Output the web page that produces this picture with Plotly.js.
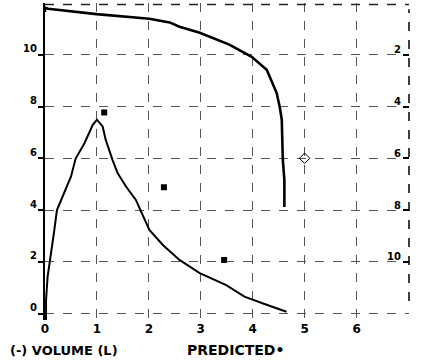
<!DOCTYPE html>
<html>
<head>
<meta charset="utf-8">
<script src="https://cdn.plot.ly/plotly-3.0.1.min.js"></script>
<style>html,body{margin:0;padding:0;background:#fff;}#chart{width:431px;height:360px;}</style>
</head>
<body>
<div id="chart"></div>
<script>
// Flow-volume loop (expiratory limb): volume (L) vs flow (L/s)
const fvVolume = [0.02, 0.02, 0.05, 0.10, 0.18, 0.23, 0.34, 0.50, 0.59, 0.76, 0.92, 1.00, 1.11, 1.17, 1.30, 1.40, 1.56, 1.75, 2.01, 2.27, 2.59, 2.98, 3.49, 3.84, 4.20, 4.65];
const fvFlow   = [-0.32, 0.52, 1.42, 2.20, 3.23, 4.00, 4.52, 5.29, 5.99, 6.58, 7.29, 7.49, 7.23, 6.71, 5.94, 5.42, 4.91, 4.39, 3.23, 2.65, 2.07, 1.56, 1.10, 0.65, 0.39, 0.07];

// Volume-time curve: volume (L) vs time (s, right axis, downward)
const vtVolume = [0, 0, 0.06, 0.99, 2.01, 2.40, 2.59, 2.98, 3.55, 3.98, 4.27, 4.46, 4.52, 4.56, 4.58, 4.61, 4.61];
const vtTime   = [0.35, 0.18, 0.22, 0.43, 0.61, 0.75, 0.92, 1.15, 1.61, 2.08, 2.58, 3.47, 4.01, 4.51, 6.06, 6.84, 7.88];

// Predicted values
const predVolume = [1.14, 2.29, 3.45];
const predFlow   = [7.77, 4.88, 2.07];
const predFvcVolume = [5.0];
const predFvcTime   = [6.0];

// Tick labels
const xTicks = [0, 1, 2, 3, 4, 5, 6];
const flowTicks = [0, 2, 4, 6, 8, 10];
const timeTicks = [2, 4, 6, 8, 10];

const tickFont = {family: 'DejaVu Sans', size: 10, color: '#000', weight: 'bold'};

const traces = [
  {x: fvVolume, y: fvFlow, type: 'scatter', mode: 'lines', line: {color: '#000', width: 2}, hoverinfo: 'skip'},
  {x: vtVolume, y: vtTime, yaxis: 'y2', type: 'scatter', mode: 'lines', line: {color: '#000', width: 2.6}, hoverinfo: 'skip'},
  {x: predVolume, y: predFlow, type: 'scatter', mode: 'markers', marker: {symbol: 'square', size: 6, color: '#000'}, hoverinfo: 'skip'},
  {x: predFvcVolume, y: predFvcTime, yaxis: 'y2', type: 'scatter', mode: 'markers', marker: {symbol: 'diamond-open', size: 8, color: '#000', line: {width: 1, color: '#000'}}, hoverinfo: 'skip'}
];

const layout = {
  width: 431, height: 360,
  margin: {l: 45, r: 22, t: 3, b: 40},
  paper_bgcolor: '#fff', plot_bgcolor: '#fff',
  showlegend: false,
  xaxis: {
    range: [0, 7.01], tickmode: 'array', tickvals: xTicks, ticktext: xTicks.map(String),
    showgrid: true, gridcolor: '#555', gridwidth: 1, griddash: 'dash',
    zeroline: false, showline: false, ticks: '',
    tickfont: {family: 'DejaVu Sans', size: 12, color: '#000', weight: 'bold'},
    ticklabelstandoff: 0
  },
  yaxis: {
    range: [-0.25, 12], tickmode: 'array', tickvals: flowTicks, ticktext: flowTicks.map(String),
    showgrid: true, gridcolor: '#555', gridwidth: 1, griddash: 'dash',
    zeroline: false, showline: true, linecolor: '#000', linewidth: 2,
    ticks: 'outside', ticklen: 5, tickwidth: 2, tickcolor: '#000',
    ticklabelshift: -6, ticklabelstandoff: -1,
    tickfont: tickFont
  },
  yaxis2: {
    overlaying: 'y', side: 'right', range: [12.25, 0], tickmode: 'array',
    tickvals: timeTicks, ticktext: timeTicks.map(String),
    showgrid: false, zeroline: false, showline: false,
    ticks: 'inside', ticklen: 6, tickwidth: 2, tickcolor: '#000',
    ticklabelposition: 'inside', ticklabelshift: 5, ticklabelstandoff: 1,
    tickfont: tickFont
  },
  shapes: [
    {type: 'line', xref: 'paper', yref: 'paper', x0: 0, x1: 1, y0: 0.995, y1: 0.995, line: {color: '#222', width: 1.5, dash: 'dash'}},
    {type: 'line', xref: 'paper', yref: 'paper', x0: 1, x1: 1, y0: 0.06, y1: 0.98, line: {color: '#000', width: 1.5, dash: 'dash'}}
  ],
  annotations: [
    {xref: 'paper', yref: 'paper', x: -0.102, y: -0.095, xanchor: 'left', yanchor: 'middle', showarrow: false,
     text: '(-) VOLUME (L)', font: {family: 'DejaVu Sans', size: 13, color: '#000', weight: 'bold'}},
    {xref: 'paper', yref: 'paper', x: 0.385, y: -0.095, xanchor: 'left', yanchor: 'middle', showarrow: false,
     text: 'PREDICTED•', font: {family: 'DejaVu Sans', size: 14, color: '#000', weight: 'bold'}}
  ]
};

Plotly.newPlot('chart', traces, layout, {staticPlot: true, displayModeBar: false});
</script>
</body>
</html>
